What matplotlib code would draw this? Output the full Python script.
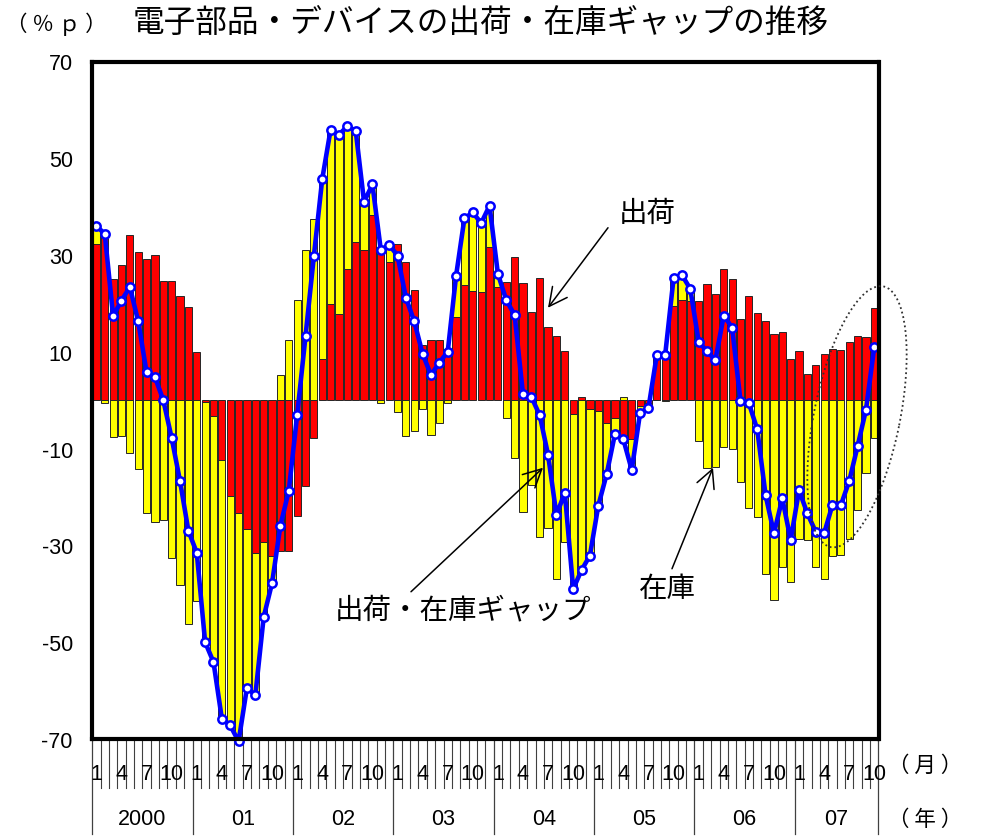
import matplotlib
matplotlib.use('Agg')
import matplotlib.pyplot as plt
import numpy as np
from matplotlib.patches import Ellipse
from matplotlib.transforms import ScaledTranslation, blended_transform_factory

# ---- data (monthly, 2000/01 - 2007/10) ----
shipments = [32.2, 35.0, 25.0, 28.0, 34.2, 30.6, 29.1, 30.0, 24.7, 24.7, 21.5, 19.2,
             9.9, -0.3, -3.3, -12.4, -19.8, -23.3, -26.7, -31.5, -29.3, -32.2, -31.1, -31.1,
             -23.9, -17.8, -7.7, 8.6, 19.8, 17.8, 27.1, 32.6, 31.1, 38.2, 31.6, 28.6,
             32.3, 28.6, 22.7, 11.4, 12.4, 12.4, 10.6, 17.2, 23.9, 22.5, 22.3, 31.6,
             23.4, 24.4, 29.5, 24.2, 18.3, 25.2, 15.2, 13.2, 10.1, -2.8, 0.7, -1.8,
             -2.3, -4.7, -3.6, -8.8, -8.0, -1.2, -0.5, 9.4, 9.6, 19.4, 20.7, 20.6,
             20.5, 24.0, 22.0, 27.2, 25.0, 16.7, 21.6, 18.1, 16.4, 13.7, 14.2, 8.6,
             10.1, 5.4, 7.2, 9.5, 10.6, 10.3, 12.0, 13.2, 13.0, 19.0]
inventory = [3.8, -0.6, -7.6, -7.4, -10.8, -14.3, -23.3, -25.2, -24.7, -32.5, -38.2, -46.2,
             -41.4, -49.7, -50.8, -53.4, -47.4, -47.2, -32.7, -29.5, -15.5, -5.6, 5.2, 12.4,
             20.8, 31.0, 37.5, 37.1, 36.1, 37.1, 29.5, 23.1, 9.9, 6.4, -0.5, 3.5,
             -2.4, -7.4, -6.4, -1.8, -7.2, -4.6, -0.6, 8.5, 13.7, 16.3, 14.3, 8.6,
             2.7, -3.7, -11.9, -23.0, -17.6, -28.3, -26.5, -36.9, -29.2, -36.2, -35.8, -30.3,
             -19.5, -10.6, -3.3, 0.7, -6.4, -1.4, -1.1, 0.0, -0.2, 5.8, 5.2, 2.4,
             -8.4, -13.9, -13.7, -9.7, -10.0, -16.8, -22.2, -24.1, -36.0, -41.2, -34.5, -37.5,
             -28.7, -28.8, -34.4, -37.0, -32.2, -32.0, -28.7, -22.7, -15.0, -7.9]
gap = [36.0, 34.4, 17.4, 20.6, 23.4, 16.3, 5.8, 4.8, 0.0, -7.8, -16.7, -27.0,
       -31.5, -50.0, -54.1, -65.8, -67.2, -70.5, -59.4, -61.0, -44.8, -37.8, -25.9, -18.7,
       -3.1, 13.2, 29.8, 45.7, 55.9, 54.9, 56.6, 55.7, 41.0, 44.6, 31.1, 32.1,
       29.9, 21.2, 16.3, 9.6, 5.2, 7.8, 10.0, 25.7, 37.6, 38.8, 36.6, 40.2,
       26.1, 20.7, 17.6, 1.2, 0.7, -3.1, -11.3, -23.7, -19.1, -39.0, -35.1, -32.1,
       -21.8, -15.3, -6.9, -8.1, -14.4, -2.6, -1.6, 9.4, 9.4, 25.2, 25.9, 23.0,
       12.1, 10.1, 8.3, 17.5, 15.0, -0.1, -0.6, -6.0, -19.6, -27.5, -20.3, -28.9,
       -18.6, -23.4, -27.2, -27.5, -21.6, -21.7, -16.7, -9.5, -2.0, 11.1]
year_labels = ['2000', '01', '02', '03', '04', '05', '06', '07']
month_ticks = [1, 4, 7, 10]
yticks = [70, 50, 30, 10, -10, -30, -50, -70]

title = '電子部品・デバイスの出荷・在庫ギャップの推移'
unit_label = '（ ％ ｐ ）'

CJK = ['Noto Sans CJK JP', 'DejaVu Sans']
NUM = ['Liberation Sans', 'DejaVu Sans']
plt.rcParams['font.family'] = NUM

W, H = 982, 837
fig = plt.figure(figsize=(W / 100, H / 100), dpi=100)
L, R, T, B = 92.2, 878.5, 62.5, 740.0
ax = fig.add_axes([L / W, 1 - B / H, (R - L) / W, (B - T) / H])

n = len(shipments)
x = np.arange(n)
ship = np.array(shipments)
inv = np.array(inventory)
same = np.sign(inv) == np.sign(ship)
inv_bottom = np.where(same, ship, 0.0)

bw = 0.86
ax.bar(x, inv, bottom=inv_bottom, width=bw, color='#FFFF00', edgecolor='#262626',
       linewidth=0.7, zorder=2)
ax.bar(x, ship, width=bw, color='#FF0000', edgecolor='#262626', linewidth=0.7, zorder=3)
ax.plot(x, gap, color='#0000FF', lw=3.3, marker='o', markersize=6.0,
        markerfacecolor='white', markeredgecolor='#0000FF', markeredgewidth=1.8,
        zorder=5, clip_on=False)

ax.set_xlim(-0.5, n - 0.5)
ax.set_ylim(-70, 70)
ax.set_yticks(yticks)
ax.set_yticklabels([str(v) for v in yticks], fontsize=15.5)
ax.tick_params(axis='y', length=0, pad=14)
ax.set_xticks([])
for s in ax.spines.values():
    s.set_linewidth(3.0)
    s.set_color('black')
    s.set_zorder(6)

# month / year axis decorations
bt = blended_transform_factory(ax.transData, ax.transAxes)
month_line = 49 / (B - T)
year_line = (835 - B) / (B - T)
for i in range(n + 1):
    xb = i - 0.5
    if i % 12 == 0 or i == n:
        ax.plot([xb, xb], [0, -year_line], transform=bt, color='#404040', lw=0.9,
                clip_on=False, zorder=1)
    else:
        ax.plot([xb, xb], [0, -month_line], transform=bt, color='#404040', lw=0.8,
                clip_on=False, zorder=1)
y_month = -(775 - B) / (B - T)
y_year = -(820 - B) / (B - T)
for i in range(n):
    m = i % 12 + 1
    if m in month_ticks:
        ax.text(i, y_month, str(m), transform=bt, ha='center', va='center',
                fontsize=15.5, family=NUM)
for k, lab in enumerate(year_labels):
    start = k * 12 - 0.5
    end = min(start + 12, n - 0.5)
    ax.text((start + end) / 2, y_year, lab, transform=bt, ha='center', va='center',
            fontsize=15.5, family=NUM)

fig.text(925.5 / W, 1 - 766 / H, '（ 月 ）', ha='center', va='center', fontsize=15.5, family=CJK)
fig.text(925.5 / W, 1 - 820 / H, '（ 年 ）', ha='center', va='center', fontsize=15.5, family=CJK)

# title and unit
fig.text(133 / W, 1 - 24 / H, title, ha='left', va='center', fontsize=22.8, family=CJK)
fig.text(56.5 / W, 1 - 24 / H, unit_label, ha='center', va='center', fontsize=15.5, family=CJK)

# annotations
def px2data(px, py):
    return ((px - L) / ((R - L) / n) - 0.5, (400.5 - py) / ((B - T) / 140))

arrow = dict(arrowstyle='->,head_length=0.65,head_width=0.33', lw=1.1, color='black',
             shrinkA=0, shrinkB=0, mutation_scale=20)
ax.annotate('', xy=px2data(548, 308), xytext=px2data(608, 228), arrowprops=arrow, zorder=7,
            annotation_clip=False)
ax.annotate('', xy=px2data(543, 468), xytext=px2data(411, 592), arrowprops=arrow, zorder=7,
            annotation_clip=False)
ax.annotate('', xy=px2data(713, 468), xytext=px2data(672, 569), arrowprops=arrow, zorder=7,
            annotation_clip=False)
tx, ty = px2data(647, 213)
ax.text(tx, ty, '出荷', ha='center', va='center', fontsize=20.5, family=CJK, zorder=7)
tx, ty = px2data(463, 610)
ax.text(tx, ty, '出荷・在庫ギャップ', ha='center', va='center', fontsize=20.5, family=CJK, zorder=7)
tx, ty = px2data(667, 588)
ax.text(tx, ty, '在庫', ha='center', va='center', fontsize=20.5, family=CJK, zorder=7)

# dotted ellipse around 2007
cx, cy = px2data(857, 417)
etrans = fig.dpi_scale_trans + ScaledTranslation(cx, cy, ax.transData)
ell = Ellipse((0, 0), width=2.66, height=0.86, angle=78.6, transform=etrans, fill=False,
              edgecolor='#303030', lw=1.3, linestyle=(0, (1, 1.6)), clip_on=False, zorder=8)
ax.add_artist(ell)

fig.savefig('out.png', dpi=100)
